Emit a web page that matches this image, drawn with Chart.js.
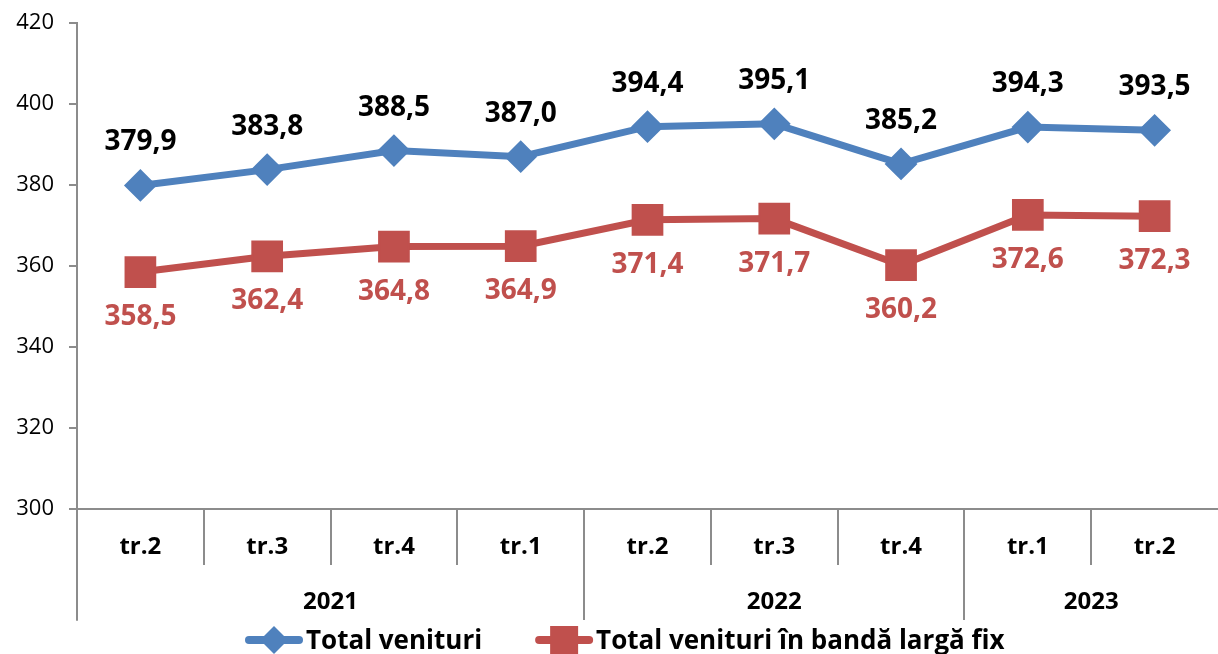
<!DOCTYPE html>
<html>
<head>
<meta charset="utf-8">
<script src="https://cdn.jsdelivr.net/npm/chart.js@4/dist/chart.umd.min.js"></script>
<style>
  html, body { margin: 0; padding: 0; background: #fff; }
  #wrap { width: 1218px; height: 654px; position: relative; }
</style>
</head>
<body>
<div id="wrap"><canvas id="chart"></canvas></div>
<script>
// date
const quarters = ['tr.2', 'tr.3', 'tr.4', 'tr.1', 'tr.2', 'tr.3', 'tr.4', 'tr.1', 'tr.2'];
const years = ['2021', '2022', '2023'];
const yearSpans = [4, 3, 2];
const totalVenituri = [379.9, 383.8, 388.5, 387.0, 394.4, 395.1, 385.2, 394.3, 393.5];
const totalBandaLarga = [358.5, 362.4, 364.8, 364.9, 371.4, 371.7, 360.2, 372.6, 372.3];
const seriesNames = ['Total venituri', 'Total venituri în bandă largă fix'];

const BLUE = '#4f81bd';
const RED = '#c0504d';
const AXIS = '#8c8c8c';
const FONT = '"Open Sans", sans-serif';

const fmt = v => v.toFixed(1).replace('.', ',');

// etichete valori + axa X pe doua niveluri + legenda
const customDraw = {
    id: 'customDraw',
    afterDatasetsDraw(chart) {
        const ctx = chart.ctx;
        ctx.save();
        ctx.font = 'bold 28px ' + FONT;
        ctx.textAlign = 'center';
        ctx.textBaseline = 'middle';
        chart.getDatasetMeta(0).data.forEach((p, i) => {
            ctx.fillStyle = '#000';
            ctx.fillText(fmt(totalVenituri[i]), p.x, p.y - 43);
        });
        chart.getDatasetMeta(1).data.forEach((p, i) => {
            ctx.fillStyle = RED;
            ctx.fillText(fmt(totalBandaLarga[i]), p.x, p.y + 45);
        });
        ctx.restore();
    },
    afterDraw(chart) {
        const ctx = chart.ctx;
        const x = chart.scales.x;
        const area = chart.chartArea;
        const step = (area.right - area.left) / quarters.length;
        ctx.save();
        ctx.strokeStyle = AXIS;
        ctx.lineWidth = 2;

        // separatoare
        const yearStarts = [0];
        yearSpans.reduce((s, n) => { yearStarts.push(s + n); return s + n; }, 0);
        for (let i = 0; i < quarters.length; i++) {
            const bx = Math.round(area.left + i * step);
            const bottom = yearStarts.includes(i) ? 620 : 565;
            ctx.beginPath();
            ctx.moveTo(bx, area.bottom);
            ctx.lineTo(bx, bottom);
            ctx.stroke();
        }

        // etichete trimestre
        ctx.fillStyle = '#000';
        ctx.textAlign = 'center';
        ctx.textBaseline = 'middle';
        ctx.font = 'bold 24px ' + FONT;
        quarters.forEach((q, i) => {
            ctx.fillText(q, x.getPixelForValue(i), 547);
        });

        // etichete ani
        ctx.font = 'bold 24px ' + FONT;
        let start = 0;
        years.forEach((y, k) => {
            const cx = area.left + (start + yearSpans[k] / 2) * step;
            ctx.fillText(y, cx, 602);
            start += yearSpans[k];
        });

        // legenda
        ctx.font = 'bold 26px ' + FONT;
        ctx.textAlign = 'left';
        ctx.textBaseline = 'alphabetic';
        const lineW = 58, gapText = 3, gapItem = 53;
        const widths = seriesNames.map(s => ctx.measureText(s).width);
        let lx = 245;
        const ly = 640;
        [[BLUE, 'diamond'], [RED, 'square']].forEach(([col, shape], k) => {
            ctx.strokeStyle = col;
            ctx.fillStyle = col;
            ctx.lineWidth = 8;
            ctx.lineCap = 'round';
            ctx.beginPath();
            ctx.moveTo(lx + 4, ly);
            ctx.lineTo(lx + lineW - 4, ly);
            ctx.stroke();
            const mx = lx + lineW / 2;
            ctx.beginPath();
            if (shape === 'diamond') {
                ctx.moveTo(mx - 14, ly);
                ctx.lineTo(mx, ly - 14);
                ctx.lineTo(mx + 14, ly);
                ctx.lineTo(mx, ly + 14);
            } else {
                ctx.rect(mx - 14, ly - 14, 28, 28);
            }
            ctx.closePath();
            ctx.fill();
            ctx.fillStyle = '#000';
            ctx.fillText(seriesNames[k], lx + lineW + gapText, 649);
            lx += lineW + gapText + widths[k] + gapItem;
        });

        // prelungire axa Y
        ctx.strokeStyle = AXIS;
        ctx.lineWidth = 2;
        ctx.beginPath();
        ctx.moveTo(area.left, area.bottom);
        ctx.lineTo(area.left, 620);
        ctx.stroke();
        ctx.restore();
    }
};

const ctx = document.getElementById('chart').getContext('2d');
new Chart(ctx, {
    type: 'line',
    data: {
        labels: quarters,
        datasets: [{
            label: seriesNames[0],
            data: totalVenituri,
            borderColor: BLUE,
            backgroundColor: BLUE,
            borderWidth: 7,
            pointStyle: 'rectRot',
            pointRadius: 15,
            pointBorderWidth: 2,
            pointBackgroundColor: BLUE,
            pointBorderColor: BLUE,
            tension: 0
        }, {
            label: seriesNames[1],
            data: totalBandaLarga,
            borderColor: RED,
            backgroundColor: RED,
            borderWidth: 7,
            pointStyle: 'rect',
            pointRadius: 21,
            pointBorderWidth: 2,
            pointBackgroundColor: RED,
            pointBorderColor: RED,
            tension: 0
        }]
    },
    options: {
        responsive: true,
        maintainAspectRatio: false,
        animation: false,
        layout: { autoPadding: false, padding: { top: 23, right: 0, left: 0, bottom: 0 } },
        plugins: {
            legend: { display: false },
            tooltip: { enabled: false }
        },
        scales: {
            x: {
                offset: true,
                grid: { display: false },
                border: { color: AXIS, width: 2 },
                ticks: { display: false },
                afterFit: scale => { scale.height = 145; }
            },
            y: {
                min: 300,
                max: 420,
                ticks: {
                    stepSize: 20,
                    color: '#000',
                    font: { family: FONT, size: 22 },
                    padding: 15
                },
                grid: {
                    drawOnChartArea: false,
                    drawTicks: true,
                    tickLength: 8,
                    color: AXIS,
                    lineWidth: 2
                },
                border: { color: AXIS, width: 2 },
                afterFit: scale => {
                    scale.width = 77;
                    scale.paddingTop = 0;
                    scale.paddingBottom = 0;
                }
            }
        }
    },
    plugins: [customDraw]
});
</script>
</body>
</html>
